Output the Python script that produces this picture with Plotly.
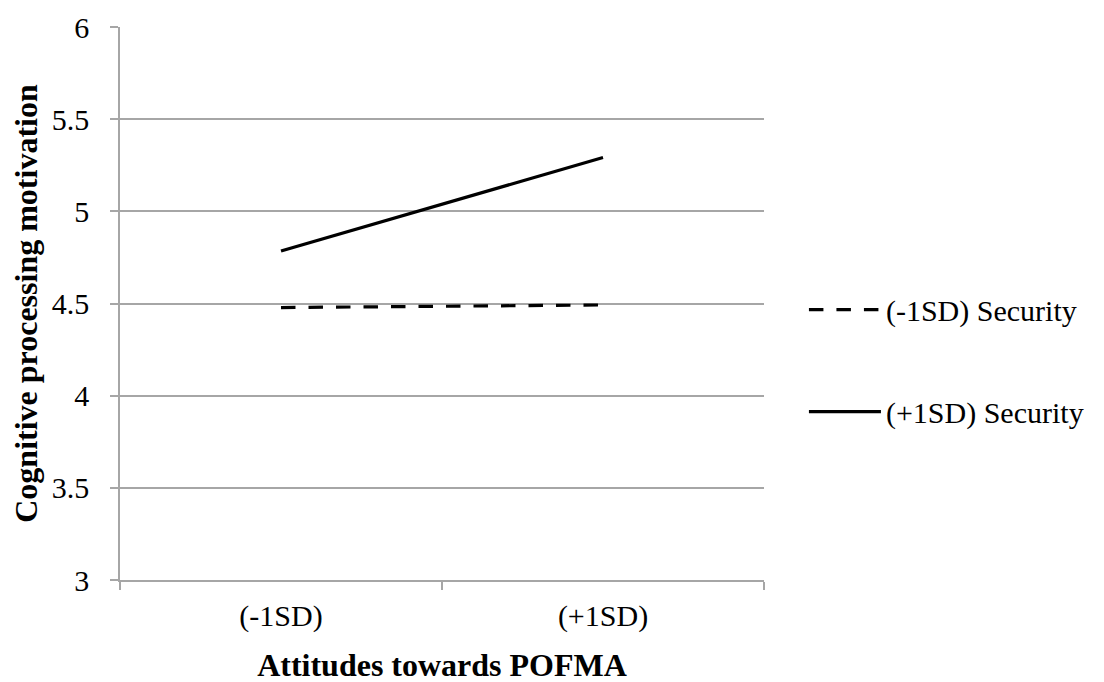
import plotly.graph_objects as go

categories = ["(-1SD)", "(+1SD)"]
low_security = [4.478, 4.492]
high_security = [4.785, 5.292]
series_names = ["(-1SD) Security", "(+1SD) Security"]
y_ticks = [3, 3.5, 4, 4.5, 5, 5.5, 6]
y_ticklabels = ["3", "3.5", "4", "4.5", "5", "5.5", "6"]

font_family = "Liberation Serif, Times New Roman, serif"
axis_gray = "#a6a6a6"

fig = go.Figure()
fig.add_trace(go.Scatter(
    x=categories, y=low_security, mode="lines", name=series_names[0],
    legendgroup="a",
    line=dict(color="black", width=3.2, dash="14.5px,13px"),
))
fig.add_trace(go.Scatter(
    x=categories, y=high_security, mode="lines", name=series_names[1],
    legendgroup="b",
    line=dict(color="black", width=3.2),
))

fig.update_layout(
    width=1104, height=682,
    margin=dict(l=112, r=348, t=19, b=110, autoexpand=False),
    paper_bgcolor="white", plot_bgcolor="white",
    font=dict(family=font_family, size=30, color="black"),
    showlegend=True,
    legend=dict(
        x=1.062, xanchor="left", y=0.536, yanchor="top",
        traceorder="grouped", tracegroupgap=60,
        itemwidth=72, font=dict(size=30),
        bgcolor="rgba(0,0,0,0)",
    ),
    xaxis=dict(
        type="category", range=[-0.5, 1.5], automargin=False,
        showgrid=False, showline=True, linecolor=axis_gray, linewidth=1.5,
        ticks="outside", tickson="boundaries", ticklen=8, tickcolor=axis_gray,
        tickwidth=1.5, ticklabelstandoff=8,
        tickfont=dict(size=30),
        title=dict(text="<b>Attitudes towards POFMA</b>", font=dict(size=32), standoff=22),
    ),
    yaxis=dict(
        range=[3, 6], tickvals=y_ticks, ticktext=y_ticklabels, automargin=False,
        showgrid=True, gridcolor=axis_gray, gridwidth=1.5,
        showline=True, linecolor=axis_gray, linewidth=1.5,
        ticks="outside", ticklen=8, tickcolor=axis_gray, tickwidth=1.5,
        ticklabelstandoff=15, ticklabeloverflow="allow",
        zeroline=False,
        tickfont=dict(size=30),
        title=dict(text="<b>Cognitive processing motivation</b>", font=dict(size=32), standoff=10),
    ),
)

fig.write_html("out.html")
